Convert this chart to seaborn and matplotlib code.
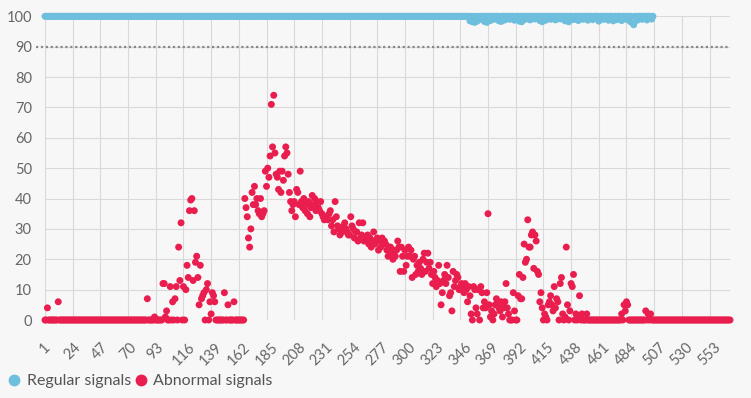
import numpy as np
import pandas as pd
import seaborn as sns
import matplotlib.pyplot as plt

# signal index runs 1..570 (abnormal) and 1..506 (regular)
signal_count = 570
regular_count = 506

# regular signals sit at 100 except small dips late in the run
regular_dip_index = [354, 356, 358, 360, 362, 366, 368, 371, 374, 378, 380, 383, 387, 391,
                     395, 397, 400, 404, 408, 412, 414, 417, 421, 425, 429, 433, 436, 440,
                     444, 448, 452, 456, 461, 465, 469, 473, 476, 480, 484, 487, 489, 490,
                     493, 497, 501, 505]
regular_dip_value = [98.5, 98.2, 98.0, 98.4, 99.0, 98.3, 98.0, 98.6, 99.0, 98.5, 98.3, 98.8,
                     99.0, 98.7, 98.4, 98.2, 99.0, 98.8, 99.1, 98.6, 98.2, 98.7, 99.0, 98.8,
                     99.1, 98.5, 98.2, 98.9, 98.6, 99.0, 98.7, 98.9, 98.4, 99.0, 98.7, 98.5,
                     98.9, 98.6, 99.0, 98.3, 97.8, 97.2, 98.7, 99.0, 98.8, 99.1]

# abnormal signals: sparse early values (rest are 0)
abnormal_early_index = [3, 12, 86, 92, 99, 100, 101, 102, 105, 107, 109, 110, 112, 113, 114,
                        116, 118, 119, 120, 121, 122, 123, 124, 125, 126, 127, 128, 129, 130,
                        131, 132, 133, 135, 136, 138, 139, 140, 141, 142, 150, 153, 158]
abnormal_early_value = [4, 6, 7, 1, 12, 12, 1, 3, 11, 6, 7, 11, 24, 13, 32,
                        11, 10, 18, 14, 36, 39.5, 40, 13, 36, 19, 21, 14, 5, 18,
                        7, 8, 9, 10, 12, 6, 2, 9, 8, 6, 9, 5, 6]

# abnormal signals 167..352
abnormal_peak = [40, 37, 34, 27, 24, 30, 42, 38, 44, 38,
                 40, 36, 35, 40, 34, 35, 36, 49, 44, 50,
                 47, 54, 71, 57, 74, 55, 48, 47, 43, 49,
                 42, 49, 46, 54, 57, 55, 48, 42, 39, 36,
                 38, 39, 34, 43, 42, 38, 49, 39, 37, 40,
                 36, 38, 35, 39, 34, 37, 41, 38, 40, 36,
                 39, 37, 36, 39, 35, 34, 33, 34, 34, 33,
                 35, 36, 31, 33, 29, 39, 34, 31, 30, 28,
                 30, 29, 31, 32, 30, 29, 28, 28, 34, 31,
                 30, 27, 29, 29, 26, 32, 27, 28, 32, 26,
                 27, 26, 28, 25, 27, 24, 26, 29, 25, 26,
                 27, 23, 26, 24, 27, 25, 26, 25, 23, 21,
                 24, 24, 22, 20, 23, 21, 23, 26, 24, 16,
                 24, 21, 16, 23, 18, 21, 24, 21, 23, 14,
                 20, 21, 15, 18, 16, 19, 17, 15, 20, 22,
                 16, 19, 22, 17, 19, 15, 12, 16, 14, 11,
                 13, 18, 12, 5, 9, 13, 15, 12, 18, 14,
                 8, 9, 3, 16, 11, 13, 15, 14, 10, 11,
                 12, 11, 9, 12, 10, 6]

# abnormal signals 353..452
abnormal_tail = [11, 8, 2, 0, 11, 10, 4, 2, 10, 0,
                 11, 9, 4, 6, 4, 9, 35, 5, 1, 3,
                 0, 2, 5, 7, 6, 4, 3, 6, 1, 4,
                 6, 12, 4, 2, 0, 0, 0, 9, 3, 0,
                 0, 8, 15, 7, 7, 14, 25, 19, 20, 33,
                 24, 24, 28, 29, 17, 28, 26, 16, 15, 6,
                 9, 4, 0, 2, 1, 0, 5, 6, 8, 5,
                 3, 11, 4, 7, 6, 0, 12, 14, 2, 0,
                 1, 24, 5, 0, 3, 12, 11, 15, 0, 2,
                 0, 1, 8, 0, 2, 0, 0, 0, 2, 0]

abnormal_late_index = [480, 482, 483, 484, 485, 500, 502, 504]
abnormal_late_value = [2, 5, 3, 6, 5, 3, 2, 2]

x_ticks = list(range(1, 554, 23))
y_ticks = list(range(0, 101, 10))
threshold = 90

regular = np.full(regular_count, 100.0)
regular[np.array(regular_dip_index) - 1] = regular_dip_value

abnormal = np.zeros(signal_count)
abnormal[np.array(abnormal_early_index) - 1] = abnormal_early_value
abnormal[166:352] = abnormal_peak
abnormal[352:452] = abnormal_tail
abnormal[np.array(abnormal_late_index) - 1] = abnormal_late_value

df = pd.concat([
    pd.DataFrame({'index': np.arange(1, regular_count + 1), 'value': regular,
                  'series': 'Regular signals'}),
    pd.DataFrame({'index': np.arange(1, signal_count + 1), 'value': abnormal,
                  'series': 'Abnormal signals'}),
])

bg = '#f7f7f7'
grid = '#d9d9d9'
sns.set_style('white', {'axes.facecolor': bg, 'figure.facecolor': bg})
plt.rcParams['font.family'] = ['Lato', 'DejaVu Sans']

fig = plt.figure(figsize=(7.51, 3.98), dpi=100)
ax = fig.add_axes([45 / 751, 78 / 398, 685 / 751, 303.7 / 398])

sns.scatterplot(data=df, x='index', y='value', hue='series',
                palette={'Regular signals': '#6dbfdd', 'Abnormal signals': '#e91e4f'},
                s=25, linewidth=0, ax=ax)
for coll in ax.collections:
    coll.set_clip_on(False)

ax.plot([-0.013, 1], [threshold, threshold], transform=ax.get_yaxis_transform(),
        color='#888888', lw=1.6, ls=(0, (1, 1.2)), clip_on=False, zorder=3)

ax.set_xlim(1, signal_count)
ax.set_ylim(0, 100)
ax.set_xticks(x_ticks)
ax.set_yticks(y_ticks)
ax.grid(True, color=grid, lw=0.8)
ax.set_axisbelow(True)
for s in ax.spines.values():
    s.set_visible(False)
ax.tick_params(axis='both', length=6.5, width=0.8, color=grid, labelcolor='#666666')
ax.tick_params(axis='y', pad=3, labelsize=10.5)
ax.tick_params(axis='x', pad=8, labelsize=10.5, labelrotation=45)
ax.set_xlabel('')
ax.set_ylabel('')

sns.move_legend(ax, 'center left', bbox_to_anchor=(6 / 751, 1 - 381 / 398),
                bbox_transform=fig.transFigure, ncol=2, frameon=False, title=None,
                borderaxespad=0, borderpad=0, handlelength=1.0,
                handletextpad=0.3, columnspacing=0.1, markerscale=1.7,
                fontsize=11.5, labelcolor='#555555')

fig.savefig('out.png', dpi=100, facecolor=bg)
